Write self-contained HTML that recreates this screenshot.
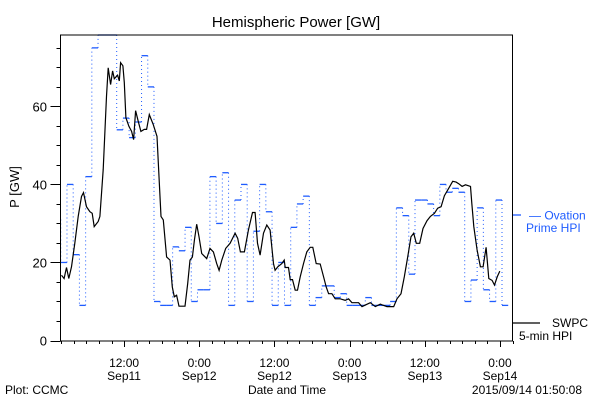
<!DOCTYPE html>
<html><head><meta charset="utf-8"><style>
html,body{margin:0;padding:0;background:#fff;}
svg{display:block;font-family:"Liberation Sans",sans-serif;}
</style></head><body>
<svg id="chart" width="600" height="400" viewBox="0 0 600 400">
<text x="296" y="27" font-size="15" text-anchor="middle">Hemispheric Power [GW]</text>
<text x="0" y="0" font-size="13" text-anchor="middle" transform="translate(19,187) rotate(-90)">P [GW]</text>
<text x="287" y="394" font-size="12" text-anchor="middle">Date and Time</text>
<text x="5" y="394" font-size="12">Plot: CCMC</text>
<text x="582" y="394" font-size="12" text-anchor="end">2015/09/14 01:50:08</text>
<g id="axes"></g>
<g id="series"></g>
<rect x="60.5" y="35" width="452" height="306" fill="none" stroke="#000" stroke-width="1"/>
<g>
<line x1="513" y1="215" x2="521" y2="215" stroke="#1f5cff" stroke-width="1.3"/>
<text x="529" y="219.5" font-size="12" fill="#1f5cff">— Ovation</text>
<text x="526" y="232" font-size="12" fill="#1f5cff">Prime HPI</text>
<line x1="513" y1="323" x2="540" y2="323" stroke="#000" stroke-width="1.2"/>
<text x="552" y="327" font-size="12">SWPC</text>
<text x="519" y="340" font-size="12">5-min HPI</text>
</g>
</svg>
<script>
const NS="http://www.w3.org/2000/svg";
// data
const yTicks=[0,20,40,60];
const xTickHours=[12,24,36,48,60,72];
const xTickTimes=["12:00","0:00","12:00","0:00","12:00","0:00"];
const xTickDates=["Sep11","Sep12","Sep12","Sep13","Sep13","Sep14"];
const ovationValues=[31,20,40,22,9,42,75,80,80,78.5,54,57,52,56,73,65,10,9,9,24,23,29,10,13,13,42,30,43,9,36,40,10,28,40,33,9,20,
9,29,35,37,9,11,14,14,11,12,9,9,9,11,9,9,9,10,34,32,17,36,36,35,32,40,38,39,38,10,15.5,34,13,10,36,9];
const swpcHours=[2.01,2.43,2.81,3.18,3.61,4.14,4.67,5.2,5.52,6,6.54,6.91,7.23,7.87,8.14,8.67,9.2,9.47,9.84,10.16,10.43,10.96,11.23,11.44,11.81,12.03,12.29,12.77,13.2,13.52,13.84,14.26,14.69,15.22,15.6,16.02,16.66,17.25,17.57,17.89,18.26,18.79,19.33,19.7,20.02,20.39,20.76,21.72,22.15,22.52,22.9,23.22,23.59,23.96,24.39,25.19,25.72,26.25,26.79,27.16,27.59,28.22,28.92,29.72,30.14,30.57,31.21,31.85,32.49,32.92,33.29,33.71,34.25,34.78,35.31,35.85,36.11,36.54,37.18,37.55,37.71,38.24,38.51,38.88,39.31,39.68,40.11,40.64,41.17,41.71,42.13,42.67,43.3,43.84,44.26,44.64,45.17,45.7,46.5,47.3,47.83,48.37,49.43,49.97,51.3,52.1,52.9,53.96,55.03,55.56,56.2,56.73,57.27,57.8,58.23,58.65,59.19,59.72,60.36,60.89,61.53,62.06,62.6,63.13,63.82,64.46,64.99,65.42,65.95,66.49,67.29,67.5,67.82,68.35,68.88,69.31,69.79,70.22,70.75,71.12,71.55,71.98];
const swpcValues=[16.7,15.9,18.7,15.9,18.9,24.9,31.8,36.9,37.9,34.3,33,32.6,29.2,30.5,31.8,43.8,62.6,69.9,65.6,69.1,67.1,68,66.5,71.2,70.4,66.1,57.1,54.9,53.6,51.5,58.9,56.2,53.6,54.1,54.1,57.9,55.3,52.3,42,31.8,30.9,21.4,20.6,13.7,11.2,11.6,8.8,8.8,14.6,20.6,21.4,25.7,29.8,26.6,22.3,21,23.6,22.7,19.7,18,20.6,23.6,24.9,27.5,26.2,22.7,22.7,28.3,32.8,32.8,24.9,21.9,27.5,29.6,28.3,19.7,18,18.9,19.7,20.6,18.7,18.7,15.6,15.6,12.9,12.9,16.3,19.7,22.7,23.9,23.9,19.7,19.6,16.3,13.7,12,12,10.7,10.7,10.3,10.7,9.7,9.7,8.7,9.7,8.7,9.3,8.7,8.7,10.7,12,16.3,21.4,26.6,27.5,24.9,24.9,28.7,30.7,31.8,32.6,33.9,34.3,37.1,39,40.8,40.6,40.2,39.5,39.9,39.5,35.2,29.2,23.2,18.9,18.9,23.9,15.9,15.4,14.2,16.3,17.8];
const ovationStart=0.9, ovationStep=0.992;
// scales
const X0=60.5,X1=512.5,Y0=340.5,Y1=35,H0=1.85,H1=74,V0=0,V1=78.3;
const xs=h=>X0+(h-H0)*(X1-X0)/(H1-H0);
const ys=v=>Y0-(v-V0)*(Y0-Y1)/(V1-V0);
const cl=(a,lo,hi)=>Math.max(lo,Math.min(hi,a));
function mk(tag,attrs,parent){const e=document.createElementNS(NS,tag);for(const k in attrs)e.setAttribute(k,attrs[k]);parent.appendChild(e);return e;}
const axes=document.getElementById('axes'),series=document.getElementById('series');
// y ticks (outward)
for(let v=0;v<=75;v+=5){
 const major=v%20===0,len=major?10:4,y=Math.round(ys(v))+0.5;
 const t=mk('line',{x1:X0,y1:y,x2:X0-len,y2:y,stroke:'#000'},axes);
 
 
}
yTicks.forEach(v=>{
 const t=mk('text',{x:47,y:ys(v)+5,'font-size':13,'text-anchor':'end'},axes);t.textContent=v;
 
 
});
// x ticks (outward)
for(let h=2;h<=74;h+=2){
 const major=h%12===0,x=Math.round(xs(h))+0.5;
 const t=mk('line',{x1:x,y1:341,x2:x,y2:341+(major?6:3),stroke:'#000'},axes);
 
 
}
xTickHours.forEach((h,i)=>{
 const x=xs(h);
 const a=mk('text',{x:x,y:367,'font-size':12,'text-anchor':'middle'},axes);a.textContent=xTickTimes[i];
 
 
 const b=mk('text',{x:x,y:380,'font-size':12,'text-anchor':'middle'},axes);b.textContent=xTickDates[i];
 
 
});
// ovation step series
const blue='#1f5cff';
let prevY=null;
ovationValues.forEach((v,k)=>{
 const h0=ovationStart+k*ovationStep,h1=h0+ovationStep;
 const xa=cl(xs(h0),X0,X1),xb=cl(xs(h1),X0,X1),y=cl(ys(v),Y1,Y0);
 if(xb>xa){
  const s=mk('line',{x1:xa,y1:y,x2:xb,y2:y,stroke:blue,'stroke-width':1.3},series);
  
  
  if(prevY!==null){
   const d=mk('line',{x1:xa,y1:prevY,x2:xa,y2:y,stroke:blue,'stroke-width':1,'stroke-dasharray':'1,3'},series);
   
   
  }
  prevY=y;
 }
});
// swpc line
const pts=swpcHours.map((h,i)=>xs(h).toFixed(1)+','+ys(swpcValues[i]).toFixed(1)).join(' ');
const pl=mk('polyline',{points:pts,fill:'none',stroke:'#000','stroke-width':1.2},series);


</script>
</body></html>
